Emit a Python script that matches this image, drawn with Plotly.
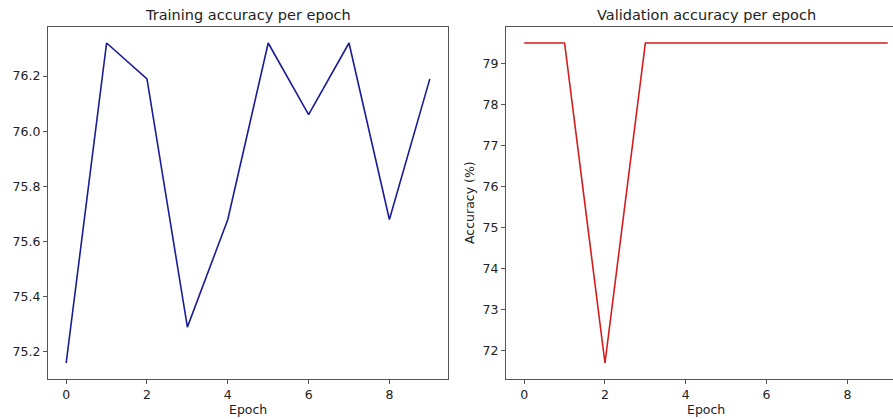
import plotly.graph_objects as go

epochs = list(range(10))
train_acc = [75.16, 76.32, 76.19, 75.29, 75.68, 76.32, 76.06, 76.32, 75.68, 76.19]
val_acc = [79.5, 79.5, 71.7, 79.5, 79.5, 79.5, 79.5, 79.5, 79.5, 79.5]
train_yticks = [75.2, 75.4, 75.6, 75.8, 76.0, 76.2]
val_yticks = [72, 73, 74, 75, 76, 77, 78, 79]
xticks = [0, 2, 4, 6, 8]

W, H = 893, 419
fig = go.Figure()
fig.add_trace(go.Scatter(x=epochs, y=train_acc, mode="lines",
                         line=dict(color="#1c1c96", width=1.6), xaxis="x", yaxis="y"))
fig.add_trace(go.Scatter(x=epochs, y=val_acc, mode="lines",
                         line=dict(color="#d41c1c", width=1.6), xaxis="x2", yaxis="y2"))

font = dict(family="DejaVu Sans", size=12.5, color="#222")
tfont = dict(family="DejaVu Sans", size=14.5, color="#222")
spine = "#555"
ydom = [1 - 379 / H, 1 - 27 / H]

common_ax = dict(showgrid=False, zeroline=False, showline=True, linecolor=spine, linewidth=1.2,
                 ticks="outside", ticklen=4, tickcolor=spine, tickfont=font)

fig.update_layout(
    width=W, height=H, margin=dict(l=0, r=0, t=0, b=0),
    paper_bgcolor="white", plot_bgcolor="white", showlegend=False,
    xaxis=dict(domain=[48 / W, 448 / W], range=[-0.45, 9.45], tickvals=xticks,
               mirror=True, anchor="y", **common_ax),
    yaxis=dict(domain=ydom, range=[75.102, 76.378], tickvals=train_yticks,
               ticktext=[f"{v:.1f}" for v in train_yticks], mirror=True, anchor="x", **common_ax),
    xaxis2=dict(domain=[506 / W, 1.0], range=[-0.45, 9.13], tickvals=xticks,
                mirror=True, anchor="y2", **common_ax),
    yaxis2=dict(domain=ydom, range=[71.31, 79.89], tickvals=val_yticks,
                mirror=False, anchor="x2", **common_ax),
    annotations=[
        dict(text="Training accuracy per epoch", x=248 / W, y=1 - 15 / H, xref="paper", yref="paper",
             showarrow=False, xanchor="center", yanchor="middle", font=tfont),
        dict(text="Validation accuracy per epoch", x=706 / W, y=1 - 15 / H, xref="paper", yref="paper",
             showarrow=False, xanchor="center", yanchor="middle", font=tfont),
        dict(text="Epoch", x=248 / W, y=1 - 409 / H, xref="paper", yref="paper",
             showarrow=False, xanchor="center", yanchor="middle", font=font),
        dict(text="Epoch", x=706 / W, y=1 - 409 / H, xref="paper", yref="paper",
             showarrow=False, xanchor="center", yanchor="middle", font=font),
        dict(text="Accuracy (%)", x=470 / W, y=1 - 203 / H, xref="paper", yref="paper",
             showarrow=False, xanchor="center", yanchor="middle", textangle=-90, font=font),
    ],
)

fig.write_html("out.html")
